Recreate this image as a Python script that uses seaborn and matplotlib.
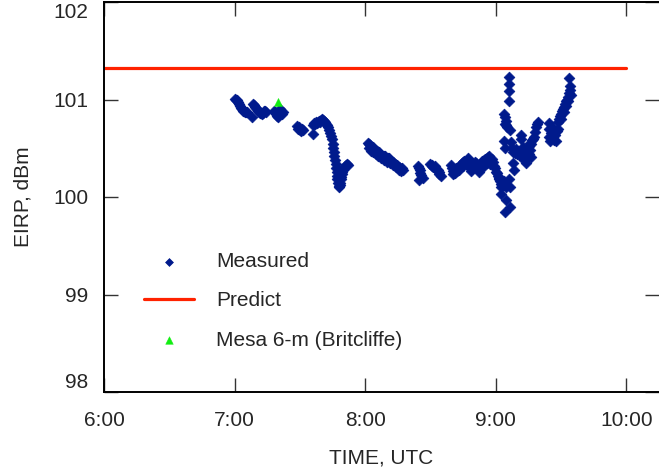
import matplotlib
matplotlib.use("Agg")
import matplotlib.pyplot as plt
import matplotlib.transforms as mtransforms
import seaborn as sns
import pandas as pd

# ---------------- data ----------------
meas_time = [
    # 7:00 - 7:23
    7.000, 7.008, 7.015, 7.023, 7.031, 7.038, 7.046, 7.054, 7.062, 7.069, 7.077, 7.085, 7.092,
    7.131, 7.138, 7.146, 7.154, 7.162, 7.169, 7.177, 7.185, 7.192, 7.200, 7.208, 7.215, 7.223, 7.231, 7.238,
    7.300, 7.308, 7.315, 7.323, 7.331, 7.338, 7.346, 7.354, 7.362, 7.369,
    # 7:28 - 7:32
    7.477, 7.485, 7.492, 7.500, 7.508, 7.515, 7.523, 7.600,
    # 7:36 - 7:52
    7.600, 7.608, 7.615, 7.623, 7.631, 7.638, 7.646, 7.654, 7.662, 7.669, 7.677, 7.685, 7.692, 7.700,
    7.708, 7.715, 7.723, 7.731, 7.738, 7.746, 7.750, 7.754, 7.758, 7.762, 7.769, 7.773, 7.777, 7.781,
    7.785, 7.788, 7.792, 7.796, 7.800, 7.804, 7.808, 7.812, 7.815, 7.819, 7.823, 7.831, 7.838, 7.846,
    7.854, 7.862, 7.869,
    # 8:01 - 8:18
    8.023, 8.031, 8.038, 8.046, 8.054, 8.062, 8.069, 8.077, 8.085, 8.092, 8.100, 8.108, 8.115, 8.123,
    8.131, 8.138, 8.146, 8.154, 8.162, 8.169, 8.177, 8.185, 8.192, 8.200, 8.208, 8.215, 8.223, 8.231,
    8.238, 8.246, 8.254, 8.262, 8.269, 8.277, 8.285, 8.292,
    8.031, 8.046, 8.062, 8.085, 8.100, 8.123, 8.146, 8.169, 8.192, 8.215, 8.238, 8.262, 8.277,
    # 8:24 - 8:35
    8.408, 8.415, 8.423, 8.423, 8.415, 8.446, 8.431,
    8.500, 8.508, 8.515, 8.523, 8.531, 8.538, 8.546, 8.554, 8.562, 8.569, 8.577,
    # 8:39 - 8:59
    8.654, 8.662, 8.669, 8.677, 8.685, 8.692, 8.700, 8.708, 8.715, 8.723, 8.731, 8.738, 8.746, 8.754,
    8.762, 8.769, 8.777, 8.785, 8.792, 8.800, 8.808, 8.815, 8.823, 8.831, 8.838, 8.846, 8.854, 8.862,
    8.869, 8.877, 8.885, 8.892, 8.900, 8.908, 8.915, 8.923, 8.931, 8.938, 8.946, 8.954, 8.962, 8.969,
    8.977, 8.985,
    8.669, 8.685, 8.715, 8.746, 8.777, 8.808, 8.838, 8.869, 8.900, 8.931, 8.954,
    # dip near 9:00 - 9:06
    8.992, 9.000, 9.008, 9.015, 9.023, 9.023, 9.031, 9.038, 9.046, 9.054, 9.062, 9.038, 9.038,
    9.077, 9.077, 9.069, 9.108, 9.100, 9.062, 9.108,
    # spike at 9:06
    9.100, 9.100, 9.100, 9.100,
    9.062, 9.069, 9.077, 9.077, 9.085, 9.108, 9.069, 9.062, 9.069,
    # 9:07 - 9:19
    9.115, 9.123, 9.131, 9.131, 9.138, 9.146, 9.154, 9.162, 9.169, 9.177, 9.185, 9.192, 9.192, 9.200,
    9.208, 9.208, 9.215, 9.223, 9.231, 9.231, 9.238, 9.246, 9.254, 9.254, 9.262, 9.262, 9.269, 9.269,
    9.277, 9.285, 9.292, 9.300, 9.308, 9.315, 9.323,
    # 9:24 - 9:35
    9.408, 9.408, 9.408, 9.415, 9.423, 9.431, 9.438, 9.446, 9.454, 9.462, 9.469, 9.477, 9.477, 9.485,
    9.492, 9.500, 9.500, 9.508, 9.515, 9.523, 9.523, 9.531, 9.538, 9.538, 9.546, 9.554, 9.554, 9.562,
    9.569, 9.569, 9.562, 9.577,
]
meas_eirp = [
    101.01, 101.00, 100.99, 100.97, 100.95, 100.93, 100.91, 100.90, 100.88, 100.88, 100.87, 100.87, 100.87,
    100.82, 100.95, 100.94, 100.92, 100.91, 100.90, 100.88, 100.87, 100.86, 100.86, 100.85, 100.86, 100.88, 100.88, 100.87,
    100.88, 100.87, 100.85, 100.83, 100.82, 100.84, 100.90, 100.88, 100.85, 100.87,
    100.73, 100.70, 100.72, 100.69, 100.68, 100.70, 100.69, 100.65,
    100.74, 100.76, 100.75, 100.77, 100.76, 100.77, 100.78, 100.77, 100.79, 100.80, 100.79, 100.78, 100.77, 100.75,
    100.74, 100.72, 100.69, 100.66, 100.63, 100.59, 100.54, 100.50, 100.46, 100.42, 100.38, 100.34, 100.30, 100.26,
    100.22, 100.18, 100.14, 100.11, 100.10, 100.12, 100.14, 100.18, 100.21, 100.24, 100.26, 100.28, 100.30, 100.32,
    100.33, 100.34, 100.33,
    100.55, 100.54, 100.53, 100.51, 100.50, 100.51, 100.49, 100.48, 100.47, 100.47, 100.45, 100.46, 100.44, 100.43,
    100.42, 100.41, 100.42, 100.42, 100.40, 100.39, 100.40, 100.40, 100.38, 100.37, 100.36, 100.36, 100.35, 100.34,
    100.33, 100.33, 100.31, 100.31, 100.30, 100.29, 100.30, 100.28,
    100.50, 100.47, 100.46, 100.44, 100.42, 100.40, 100.38, 100.36, 100.35, 100.33, 100.31, 100.28, 100.27,
    100.32, 100.30, 100.28, 100.25, 100.17, 100.19, 100.23,
    100.34, 100.32, 100.33, 100.31, 100.32, 100.30, 100.29, 100.28, 100.26, 100.24, 100.22,
    100.33, 100.30, 100.27, 100.25, 100.28, 100.30, 100.27, 100.29, 100.31, 100.33, 100.32, 100.35, 100.36, 100.37,
    100.35, 100.34, 100.38, 100.40, 100.38, 100.33, 100.30, 100.29, 100.31, 100.34, 100.36, 100.35, 100.33, 100.30,
    100.29, 100.32, 100.35, 100.37, 100.36, 100.38, 100.39, 100.37, 100.40, 100.41, 100.42, 100.38, 100.36, 100.39,
    100.36, 100.32,
    100.24, 100.25, 100.28, 100.32, 100.33, 100.27, 100.31, 100.26, 100.31, 100.35, 100.34,
    100.30, 100.26, 100.25, 100.22, 100.20, 100.18, 100.16, 100.13, 100.12, 100.14, 100.12, 100.10, 100.03,
    100.10, 99.97, 99.85, 99.90, 100.18, 100.16, 100.10,
    101.23, 101.16, 101.09, 100.98,
    100.85, 100.82, 100.78, 100.74, 100.72, 100.69, 100.75, 100.57, 100.50,
    100.56, 100.50, 100.46, 100.35, 100.28, 100.45, 100.49, 100.44, 100.47, 100.43, 100.46, 100.64, 100.60, 100.48,
    100.51, 100.42, 100.38, 100.44, 100.35, 100.46, 100.40, 100.49, 100.44, 100.52, 100.48, 100.55, 100.41, 100.54,
    100.58, 100.60, 100.62, 100.67, 100.72, 100.75, 100.77,
    100.76, 100.70, 100.62, 100.57, 100.66, 100.72, 100.62, 100.58, 100.64, 100.57, 100.68, 100.77, 100.70, 100.80,
    100.83, 100.85, 100.80, 100.88, 100.90, 100.92, 100.87, 100.95, 100.98, 100.93, 101.00, 101.03, 100.98, 101.07,
    101.10, 101.14, 101.22, 101.05,
]
predict_time = [6.0, 10.0]
predict_eirp = [101.32, 101.32]
mesa_time = [7.33]
mesa_eirp = [100.97]

x_ticks = [6, 7, 8, 9, 10]
x_labels = ["6:00", "7:00", "8:00", "9:00", "10:00"]
y_ticks = [98, 99, 100, 101, 102]

# ---------------- styling ----------------
sns.set_style("ticks")
plt.rcParams["font.family"] = ["Liberation Sans", "DejaVu Sans"]

C_MEAS = "#001A8C"
C_PRED = "#FF2200"
C_MESA = "#11EE11"

fig = plt.figure(figsize=(6.59, 4.71), dpi=100)
ax = fig.add_axes([104 / 659, 1 - 392 / 471, 1 - 104 / 659, (392 - 2) / 471])

meas = pd.DataFrame({"t": meas_time, "v": meas_eirp})
pred = pd.DataFrame({"t": predict_time, "v": predict_eirp})
mesa = pd.DataFrame({"t": mesa_time, "v": mesa_eirp})

sns.scatterplot(data=meas, x="t", y="v", ax=ax, marker="D", s=30, color=C_MEAS,
                edgecolor=C_MEAS, linewidth=0.5, label="Measured", zorder=3)
sns.lineplot(data=pred, x="t", y="v", ax=ax, color=C_PRED, linewidth=2.3,
             label="Predict", zorder=2)
sns.scatterplot(data=mesa, x="t", y="v", ax=ax, marker="^", s=34, color=C_MESA,
                edgecolor=C_MESA, linewidth=0.3, label="Mesa 6-m (Britcliffe)", zorder=4)

ax.set_xlim(6.0, 10.25)
ax.set_ylim(98, 102)
ax.set_xticks(x_ticks)
ax.set_xticklabels(x_labels)
ax.set_yticks(y_ticks)
ax.set_yticklabels([str(v) for v in y_ticks])

ax.tick_params(axis="both", which="major", direction="in", length=10, width=1.0,
               color="#333333", labelsize=15, top=True, right=True)
ax.tick_params(axis="x", pad=14)
ax.tick_params(axis="y", pad=11)
for side in ["left", "bottom", "top"]:
    ax.spines[side].set_linewidth(1.4)
    ax.spines[side].set_color("black")
ax.spines["right"].set_visible(False)

# end labels of the y axis sit slightly inside, as in the reference
ylabels = ax.get_yticklabels()
shift_top = mtransforms.ScaledTranslation(0, -8.5 / 100, fig.dpi_scale_trans)
shift_bot = mtransforms.ScaledTranslation(0, 11 / 100, fig.dpi_scale_trans)
ylabels[-1].set_transform(ylabels[-1].get_transform() + shift_top)
ylabels[0].set_transform(ylabels[0].get_transform() + shift_bot)

ax.set_xlabel("TIME, UTC", fontsize=15, labelpad=13)
ax.set_ylabel("EIRP, dBm", fontsize=15, labelpad=15)

leg = ax.legend(loc="upper left", bbox_to_anchor=(144 / 659, 1 - 252 / 471),
                bbox_transform=fig.transFigure, frameon=False, fontsize=15,
                handlelength=2.4, handletextpad=1.05, labelspacing=0.98,
                borderpad=0, borderaxespad=0)
handles = leg.legend_handles
handles[0].set_sizes([16])
handles[2].set_sizes([30])

fig.savefig("out.png", dpi=100)
